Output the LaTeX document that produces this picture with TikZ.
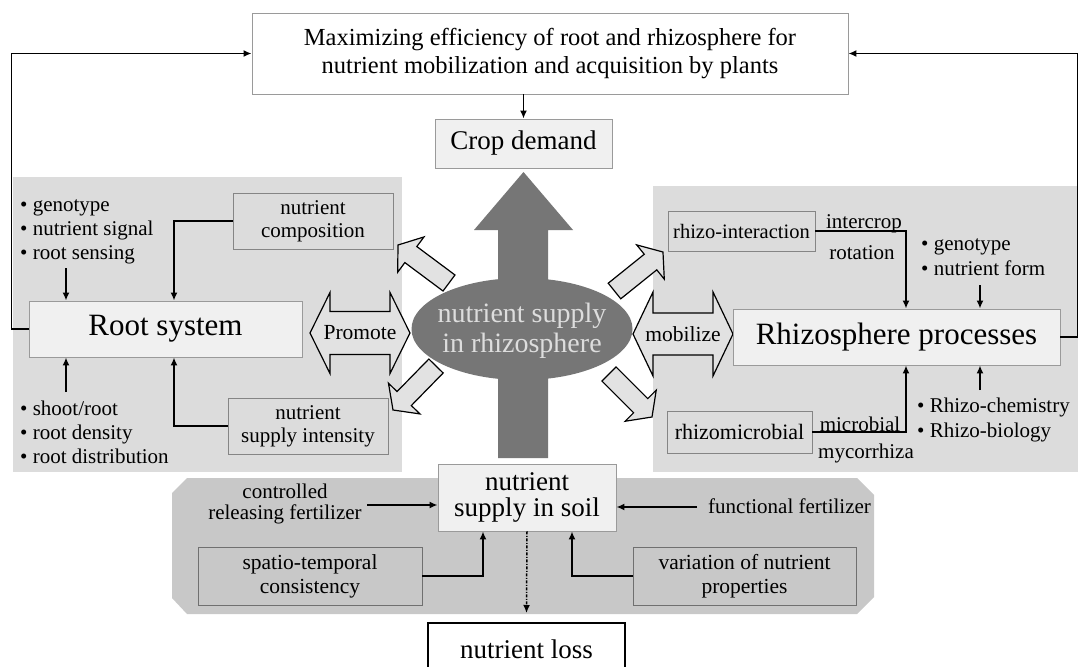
\documentclass[tikz,border=0pt]{standalone}
\usepackage{fontspec}
\setmainfont{Liberation Serif}
\usetikzlibrary{arrows.meta,shapes.geometric}
\newcommand\fsz[2]{\fontsize{#1}{#2}\selectfont}
\definecolor{panelgray}{HTML}{DCDCDC}
\definecolor{soilgray}{HTML}{C8C8C8}
\definecolor{lightbox}{HTML}{F0F0F0}
\definecolor{boxedge}{HTML}{9A9A9A}
\definecolor{inneredge}{HTML}{858585}
\definecolor{soiledge}{HTML}{707070}
\definecolor{darkfill}{HTML}{767676}
\definecolor{elltext}{HTML}{DDDDDD}
\definecolor{arrowfill}{HTML}{E2E2E2}
\newcommand\blockarr[4]{%
  \pgfmathsetmacro\baang{atan2(#2-#4,#3-#1)}%
  \pgfmathsetmacro\balen{veclen(#3-#1,#4-#2)}%
  \pgfmathsetmacro\babase{\balen-16}%
  \begin{scope}[shift={(#1,#2)},rotate=\baang]
    \draw[diagarrow] (0,-10) -- (\babase,-10) -- (\babase,-22) -- (\balen,0) -- (\babase,22) -- (\babase,10) -- (0,10) -- cycle;
  \end{scope}}
\begin{document}
\begin{tikzpicture}[x=1pt,y=-1pt,
  conn/.style={draw=black,line width=1.7pt,-{Latex[length=8pt,width=7pt]}},
  dashconn/.style={draw=black,line width=1.5pt,dash pattern=on 3pt off 1.5pt on 1pt off 1.5pt,-{Latex[length=8pt,width=7pt]}},
  topbox/.style={draw=boxedge,fill=white,line width=0.9pt,inner sep=0pt,align=center},
  lightnode/.style={draw=boxedge,fill=lightbox,line width=0.9pt,inner sep=0pt,align=center},
  innerbox/.style={draw=inneredge,fill=panelgray,line width=0.9pt,inner sep=0pt,align=center,font=\fsz{21}{23}},
  soilbox/.style={draw=soiledge,fill=soilgray,line width=0.9pt,inner sep=0pt,align=center,font=\fsz{21.5}{24}},
  bul/.style={anchor=base west,inner sep=0pt,font=\fsz{21}{24}},
  lab/.style={anchor=base,inner sep=0pt,font=\fsz{21}{24}},
  diagarrow/.style={draw=black,fill=arrowfill,line width=1.2pt,line join=miter},
  dblarrow/.style={draw=black,fill=arrowfill,line width=1.2pt,line join=miter}]
\useasboundingbox (0,0) rectangle (1080,667);
\clip (0,0) rectangle (1080,667);
\fill[white] (0,0) rectangle (1080,667);
% panels
\fill[panelgray] (13,177) rectangle (402,472);
\fill[panelgray] (653,186) rectangle (1078,472);
\fill[soilgray] (187,478) -- (857,478) -- (874,495) -- (874,597) -- (857,614) -- (187,614) -- (172,598) -- (172,493) -- cycle;
% big central arrow
\fill[darkfill] (498,458) -- (498,230) -- (474,230) -- (523.5,172) -- (573,230) -- (548,230) -- (548,458) -- cycle;
% diagonal arrows
\blockarr{449}{283}{398}{245}
\blockarr{614.5}{291}{663}{252}
\blockarr{436}{366}{393}{410}
\blockarr{609}{374}{652}{417}
% ellipse
\node[ellipse,fill=darkfill,minimum width=221pt,minimum height=102pt,inner sep=0pt] (ell) at (522,329) {};
\node[align=center,text=elltext,font=\fsz{28}{30},inner sep=0pt] (elltxt) at (522,331) {nutrient supply\\in rhizosphere};
% double arrows
\draw[dblarrow] (310,333) -- (330,292.5) -- (330,311.5) -- (390,311.5) -- (390,292.5) -- (410,333) -- (390,373.5) -- (390,354.5) -- (330,354.5) -- (330,373.5) -- cycle;
\node[font=\fsz{21.5}{24},inner sep=0pt] (promote) at (360,333) {Promote};
\draw[dblarrow] (633,334) -- (653,292) -- (653,313) -- (713,313) -- (713,292) -- (733,334) -- (713,376) -- (713,355) -- (653,355) -- (653,376) -- cycle;
\node[font=\fsz{21.5}{24},inner sep=0pt] (mobilize) at (683,334) {mobilize};
% main nodes
\node[topbox,minimum width=596pt,minimum height=81pt,font=\fsz{24.5}{28}] (top) at (550,53.5) {Maximizing efficiency of root and rhizosphere for\\nutrient mobilization and acquisition by plants};
\node[lightnode,minimum width=177pt,minimum height=49pt,font=\fsz{27}{30}] (crop) at (523.5,143.5) {Crop demand};
\node[lightnode,minimum width=273pt,minimum height=56pt,font=\fsz{31}{34}] (root) at (165.5,329) {Root system};
\node[lightnode,minimum width=327pt,minimum height=56pt,font=\fsz{31}{34}] (rhizo) at (896.5,337) {Rhizosphere processes};
\node[innerbox,minimum width=160pt,minimum height=56pt] (comp) at (313,221) {nutrient\\composition};
\node[innerbox,minimum width=160pt,minimum height=56pt] (intens) at (308,426) {nutrient\\supply intensity};
\node[innerbox,minimum width=147pt,minimum height=40pt,font=\fsz{20.5}{23}] (inter) at (741.5,231) {rhizo-interaction};
\node[innerbox,minimum width=145pt,minimum height=42pt,font=\fsz{22}{24}] (micro) at (739.5,432) {rhizomicrobial};
\node[lightnode,minimum width=178pt,minimum height=67pt,font=\fsz{27}{26}] (soil) at (527,497.5) {nutrient\\supply in soil};
\node[soilbox,minimum width=224pt,minimum height=58pt] (spat) at (310,576) {spatio-temporal\\consistency};
\node[soilbox,minimum width=223pt,minimum height=58pt] (vari) at (744.5,576) {variation of nutrient\\properties};
\node[draw=black,fill=white,line width=1.6pt,inner sep=0pt,minimum width=197pt,minimum height=60pt,anchor=north,font=\fsz{27}{30}] (loss) at (526.5,622) {\raisebox{8pt}{nutrient loss}};
% bullet lists
\node[bul] (lg1) at (20,211) {• genotype};
\node[bul] (lg2) at (20,235) {• nutrient signal};
\node[bul] (lg3) at (20,259) {• root sensing};
\node[bul] (ls1) at (20,415) {• shoot/root};
\node[bul] (ls2) at (20,439) {• root density};
\node[bul] (ls3) at (20,463) {• root distribution};
\node[bul] (rg1) at (921,250) {• genotype};
\node[bul] (rg2) at (921,275) {• nutrient form};
\node[bul] (rc1) at (917,412) {• Rhizo-chemistry};
\node[bul] (rc2) at (917,437) {• Rhizo-biology};
% connector labels
\node[lab] (lint) at (864,228) {intercrop};
\node[lab] (lrot) at (862,259) {rotation};
\node[lab] (lmic) at (860,431) {microbial};
\node[lab] (lmyc) at (866,458) {mycorrhiza};
\node[align=center,inner sep=0pt,font=\fsz{21}{21}] (ctrl) at (285,504) {controlled\\releasing fertilizer};
\node[anchor=base west,inner sep=0pt,font=\fsz{21}{24}] (func) at (708,513) {functional fertilizer};
% connectors
\draw[conn] (root.west) -- ++(-17,0) |- (top.west);
\draw[conn] (rhizo.east) -- ++(17,0) |- (top.east);
\draw[conn] (top.south -| crop.north) -- (crop.north);
\coordinate (la) at (66,268);
\draw[conn] (la) -- (la |- root.north);
\coordinate (lb) at (66,392);
\draw[conn] (lb) -- (lb |- root.south);
\draw[conn] (comp.west) -| ([xshift=8.5pt]root.north);
\draw[conn] (intens.west) -| ([xshift=8.5pt]root.south);
\draw[conn] (inter.east) -| ([xshift=9.5pt]rhizo.north);
\draw[conn] (micro.east) -| ([xshift=9.5pt]rhizo.south);
\coordinate (ra) at (980,285);
\draw[conn] (ra) -- (ra |- rhizo.north);
\coordinate (rb) at (980,390);
\draw[conn] (rb) -- (rb |- rhizo.south);
\coordinate (cs) at (367,505);
\draw[conn] (cs) -- (cs -| soil.west);
\coordinate (fs) at (697,507);
\draw[conn] (fs) -- (fs -| soil.east);
\draw[conn] (spat.east) -| ([xshift=-44pt]soil.south);
\draw[conn] (vari.west) -| ([xshift=45pt]soil.south);
\draw[dashconn] (soil.south) -- ([yshift=9pt]loss.north);
\end{tikzpicture}
\end{document}
